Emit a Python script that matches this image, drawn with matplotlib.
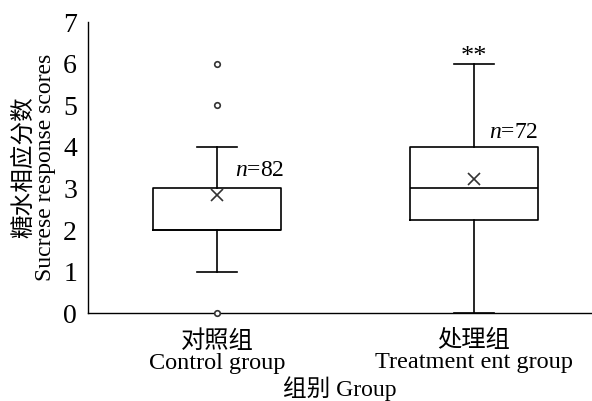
import matplotlib
matplotlib.use('Agg')
import matplotlib.pyplot as plt

plt.rcParams['font.family'] = ['Liberation Serif', 'Noto Sans CJK SC']
plt.rcParams['mathtext.fontset'] = 'custom'
plt.rcParams['mathtext.rm'] = 'Liberation Serif'
plt.rcParams['mathtext.it'] = 'Liberation Serif:italic'

#%% data
groups = ['对照组\nControl group', '处理组\nTreatment ent group']
q1 = [2.0, 2.25]
med = [2.0, 3.0]
q3 = [3.0, 4.0]
whislo = [1.0, 0.0]
whishi = [4.0, 6.0]
means = [2.85, 3.23]
fliers = [[0, 5, 6], []]
n_labels = ['82', '72']
signif = ['', '**']

stats = []
for i in range(len(groups)):
    stats.append(dict(q1=q1[i], med=med[i], q3=q3[i], whislo=whislo[i],
                      whishi=whishi[i], mean=means[i], fliers=fliers[i]))

#%% figure
fig = plt.figure(figsize=(5.92, 4.01), dpi=100)
ax = fig.add_axes([0.149, 0.219, 0.851, 0.726])

pos = [1, 2]
bp = ax.bxp(stats, positions=pos, widths=0.5, capwidths=0.156, showmeans=True,
            boxprops=dict(color='black', linewidth=1.2),
            medianprops=dict(color='black', linewidth=1.2),
            whiskerprops=dict(color='black', linewidth=1.2),
            capprops=dict(color='black', linewidth=1.2),
            meanprops=dict(marker='x', markeredgecolor='#333333', markersize=8, markeredgewidth=1.2),
            flierprops=dict(marker='o', markerfacecolor='white', markeredgecolor='#333333',
                            markersize=4, markeredgewidth=1.2))
for f in bp['fliers']:
    f.set_clip_on(False)
    f.set_zorder(5)

# n labels and significance
n_x = [1.07, 2.06]
n_y = [3.44, 4.35]
for i in range(len(groups)):
    ax.text(n_x[i], n_y[i], r'$n$=' + n_labels[i], fontsize=17,
            ha='left', va='center')
    if signif[i]:
        ax.text(pos[i], whishi[i] - 0.1, signif[i], fontsize=19, ha='center', va='bottom')

ax.set_xlim(0.498, 2.46)
ax.set_ylim(0, 7)
ax.set_yticks(range(0, 8))
ax.set_xticks(pos)
ax.set_xticklabels(groups, fontsize=17.5, linespacing=1.0)
ax.tick_params(axis='y', length=0, labelsize=20, pad=8)
ax.tick_params(axis='x', length=0, pad=12)
ax.spines['top'].set_visible(False)
ax.spines['right'].set_visible(False)
ax.spines['left'].set_linewidth(1.0)
ax.spines['bottom'].set_linewidth(1.0)

ax.set_ylabel('糖水相应分数\nSucrese response scores', fontsize=17, linespacing=1.0, labelpad=5)
ax.set_xlabel('组别 Group', fontsize=17, labelpad=2)

plt.savefig('out.png', dpi=100)
